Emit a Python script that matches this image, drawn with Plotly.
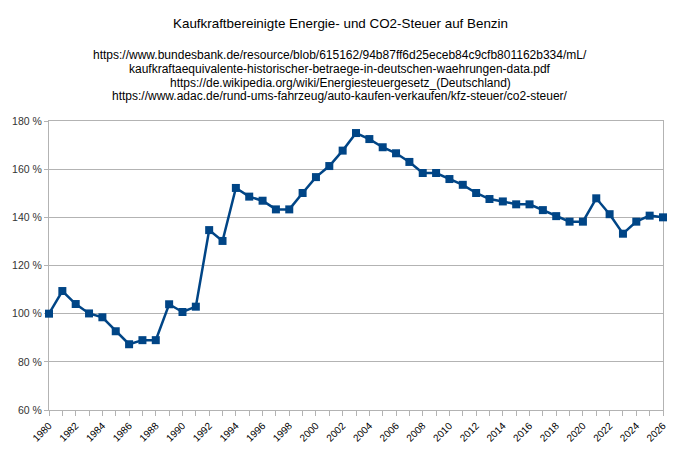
import plotly.graph_objects as go

years = list(range(1980, 2027))
values = [100.0, 109.4, 104.0, 100.1, 98.5, 92.7, 87.3, 89.0, 89.0, 103.9,
          100.7, 102.9, 134.7, 130.2, 152.2, 148.6, 146.9, 143.3, 143.3, 150.1,
          156.7, 161.3, 167.7, 175.0, 172.5, 169.1, 166.6, 163.0, 158.4, 158.4,
          155.9, 153.5, 150.1, 147.6, 146.6, 145.4, 145.4, 143.0, 140.5, 138.2,
          138.2, 147.9, 141.3, 133.2, 138.2, 140.7, 140.0]

title_text = "Kaufkraftbereinigte Energie- und CO2-Steuer auf Benzin"
subtitle_lines = [
    "https://www.bundesbank.de/resource/blob/615162/94b87ff6d25eceb84c9cfb801162b334/mL/",
    "kaufkraftaequivalente-historischer-betraege-in-deutschen-waehrungen-data.pdf",
    "https://de.wikipedia.org/wiki/Energiesteuergesetz_(Deutschland)",
    "https://www.adac.de/rund-ums-fahrzeug/auto-kaufen-verkaufen/kfz-steuer/co2-steuer/",
]
y_ticks = [60, 80, 100, 120, 140, 160, 180]

color = "#004586"
grid = "#b3b3b3"
font = "Liberation Sans, Arial, sans-serif"

fig = go.Figure()
fig.add_trace(go.Scatter(
    x=years, y=values, mode="lines+markers",
    line=dict(color=color, width=2.5),
    marker=dict(symbol="square", size=8, color=color),
    cliponaxis=False, showlegend=False,
))

# page has an 8px body margin; figure sized to fit the 680x451 window
OFF = 8
W, H = 680 - 2 * OFF, 451 - 2 * OFF
ml, mt = 49 - OFF, 121 - OFF
mr = W - (663 - OFF)
mb = H - (410 - OFF)
PW, PH = W - ml - mr, H - mt - mb

def ay(page_y):
    fy = page_y - OFF
    return 1 + (mt - fy) / PH

ax = (340 - OFF - ml) / PW

annotations = [dict(text=title_text, x=ax, y=ay(23), xref="paper", yref="paper",
                    xanchor="center", yanchor="middle", showarrow=False,
                    font=dict(family=font, size=13.4, color="#000000"))]
for i, line in enumerate(subtitle_lines):
    annotations.append(dict(text=line, x=ax, y=ay(55.5 + i * 13.5),
                            xref="paper", yref="paper", xanchor="center", yanchor="middle",
                            showarrow=False,
                            font=dict(family=font, size=12, color="#000000")))

fig.update_layout(
    width=W, height=H,
    margin=dict(l=ml, r=mr, t=mt, b=mb, autoexpand=False),
    paper_bgcolor="white", plot_bgcolor="white",
    font=dict(family=font, size=11, color="#333333"),
    annotations=annotations,
    xaxis=dict(
        range=[1980, 2026], tickmode="linear", tick0=1980, dtick=2,
        tickangle=-45, ticks="outside", ticklen=5, tickcolor=grid,
        showgrid=False, showline=True, linecolor=grid, linewidth=1, mirror=True,
        zeroline=False, tickfont=dict(size=10, color="#000000"), layer="below traces",
        minor=dict(dtick=1, tick0=1980, ticks="outside", ticklen=5, tickcolor=grid, showgrid=False),
    ),
    yaxis=dict(
        range=[60, 180], tickmode="array", tickvals=y_ticks,
        ticktext=[f"{v} %" for v in y_ticks],
        showgrid=True, gridcolor=grid, gridwidth=1,
        showline=True, linecolor=grid, linewidth=1, mirror=True,
        ticks="outside", ticklen=4, tickcolor=grid, zeroline=False, layer="below traces",
        tickfont=dict(size=10.5, color="#333333"),
    ),
)

fig.write_html("out.html")
